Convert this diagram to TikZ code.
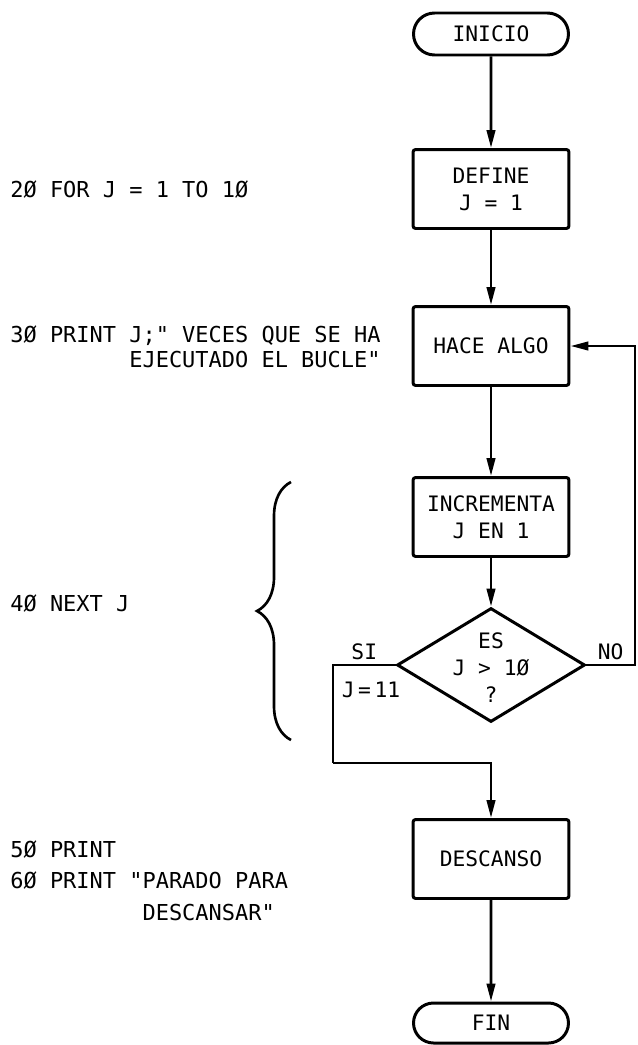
\documentclass[tikz,border=0pt]{standalone}
\usepackage{fontspec}
\setmainfont{DejaVu Sans Mono}[Ligatures=TeXOff]
\usetikzlibrary{arrows.meta,positioning,shapes.geometric,shapes.misc,decorations.pathreplacing}
\tikzset{
  term/.style={draw, rounded rectangle, line width=1.7pt, minimum width=3.1cm, minimum height=0.84cm, inner sep=0pt},
  box/.style={draw, rectangle, rounded corners=1.5pt, line width=1.7pt, align=center, minimum width=3.12cm, minimum height=1.58cm},
  decision/.style={draw, diamond, line width=1.7pt, minimum width=3.76cm, minimum height=2.28cm, inner sep=0pt},
  code/.style={anchor=base west, inner sep=0pt, font=\fontsize{12.5}{15}\selectfont},
  lbl/.style={inner sep=2pt},
  arr/.style={-{Triangle[length=3.6mm,width=1.7mm]}, line width=1.5pt},
  wire/.style={line width=1.5pt}
}
\begin{document}
\begin{tikzpicture}[x=0.02cm, y=-0.02cm, font=\fontsize{12.1}{15.4}\selectfont]
\useasboundingbox (0,0) rectangle (637,1045);
% diagrama de flujo
\node[term] (inicio) at (491,34) {INICIO};
\node[box] (define) at (491,189) {DEFINE\\J = 1};
\node[box] (hace) at (491,346) {HACE ALGO};
\node[box] (incr) at (491,517) {INCREMENTA\\J EN 1};
\node[decision] (test) at (491,665) {};
\node[align=center] (testtxt) at (491,668) {ES\\J > 1Ø\\?};
\node[box] (descanso) at (491,859) {DESCANSO};
\node[term, minimum height=0.8cm] (fin) at (491,1023) {FIN};

\coordinate (sicorner) at (333,665);
\coordinate (sijoin) at (333,763);
\coordinate (nocorner) at (635,665);

\draw[arr] (inicio) -- (define);
\draw[arr] (define) -- (hace);
\draw[arr] (hace) -- (incr);
\draw[arr] (incr) -- (test);
\draw[wire] (test.west) -- node[above, lbl] (si) {SI} (sicorner) -- (sijoin);
\draw[arr] (sijoin) -| (descanso.north);
\draw[arr] (test.east) -- node[above, lbl] (no) {NO} (nocorner) |- (hace.east);
\draw[arr] (descanso) -- (fin);
\node (jonce) at (371,690) {J\,=\,11};

% programa BASIC
\node[code] (l20) at (10,197) {2Ø FOR J = 1 TO 1Ø};
\node[code] (l30) at (10,342) {3Ø PRINT J;" VECES QUE SE HA};
\node[code] (l30b) at ([yshift=-0.5cm]l30.base west) {\hphantom{3Ø PRINT }EJECUTADO EL BUCLE"};
\node[code] (l40) at (10,611) {4Ø NEXT J};
\node[code] (l50) at (10,857) {5Ø PRINT};
\node[code] (l60) at (10,888) {6Ø PRINT "PARADO PARA};
\node[code] (l60b) at ([yshift=-0.64cm]l60.base west) {\hphantom{6Ø PRINT "}DESCANSAR"};
\draw[wire, decorate, decoration={brace, amplitude=0.68cm}] (291,740) -- (291,482);
\end{tikzpicture}
\end{document}
